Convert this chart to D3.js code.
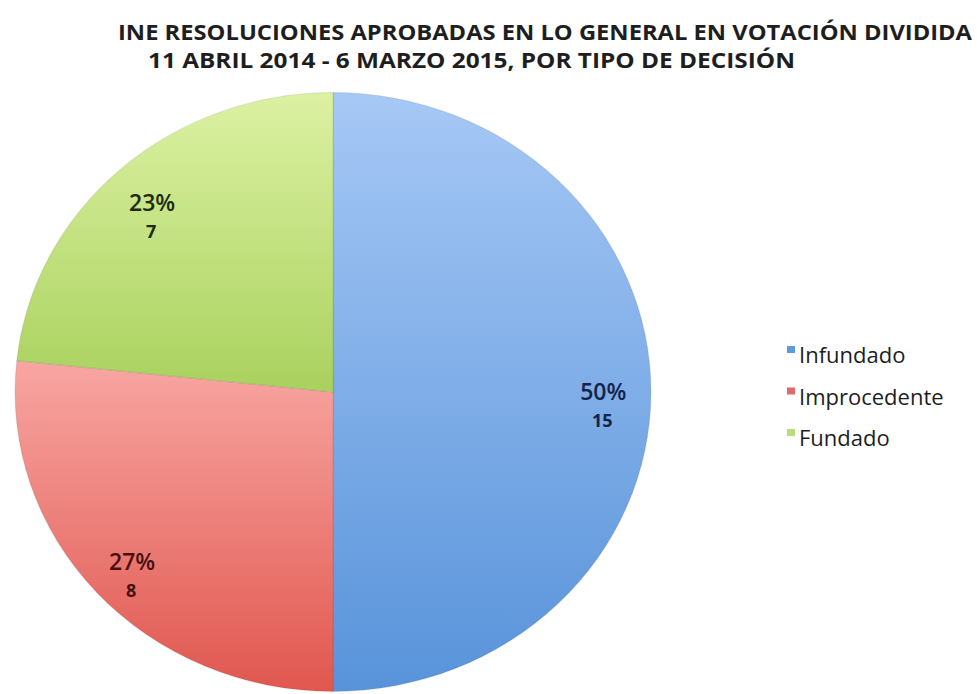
<!DOCTYPE html>
<html>
<head>
<meta charset="utf-8">
<script src="https://cdn.jsdelivr.net/npm/d3@7"></script>
<style>
  html, body { margin: 0; padding: 0; background: #fff; }
  svg { display: block; }
</style>
</head>
<body>
<svg id="chart" width="977" height="694"></svg>
<script>
// Resolutions approved in split votes, by type of decision
const categories = ["Infundado", "Improcedente", "Fundado"];
const values = [15, 8, 7];
const titleLines = [
  "INE RESOLUCIONES APROBADAS EN LO GENERAL EN VOTACIÓN DIVIDIDA",
  "11 ABRIL 2014 - 6 MARZO 2015, POR TIPO DE DECISIÓN"
];
const gradientTops = ["#a6c8f5", "#f8a6a2", "#dcf1a3"];
const gradientBottoms = ["#5893da", "#e0574f", "#a9d15e"];
const labelColors = ["#14244a", "#4a1010", "#1d2b10"];
const legendColors = ["#5d9ade", "#e0696a", "#bcdb7c"];

const svg = d3.select("#chart");

// Title
const title = svg.append("g").attr("font-family", "'Open Sans', 'DejaVu Sans', sans-serif")
  .attr("font-weight", 700).attr("fill", "#1e1e1e").attr("font-size", 22);
title.append("text").attr("x", 118).attr("y", 40)
  .attr("textLength", 854).attr("lengthAdjust", "spacingAndGlyphs").text(titleLines[0]);
title.append("text").attr("x", 148).attr("y", 68)
  .attr("textLength", 647).attr("lengthAdjust", "spacingAndGlyphs").text(titleLines[1]);

// Pie geometry: drawn as a circle, then stretched slightly wider than tall
const cx = 333, cy = 392, rx = 318, ry = 299.5;
const r = ry;
const sx = rx / ry;

const defs = svg.append("defs");
categories.forEach((c, i) => {
  const g = defs.append("linearGradient").attr("id", "grad" + i)
    .attr("x1", 0).attr("y1", 0).attr("x2", 0).attr("y2", 1);
  g.append("stop").attr("offset", "0%").attr("stop-color", gradientTops[i]);
  g.append("stop").attr("offset", "100%").attr("stop-color", gradientBottoms[i]);
});

const total = d3.sum(values);
const pie = d3.pie().sort(null).value(d => d);
const arcs = pie(values);
const arc = d3.arc().innerRadius(0).outerRadius(r);
const labelArc = d3.arc().innerRadius(r * 0.85).outerRadius(r * 0.85);

const pieG = svg.append("g").attr("transform", `translate(${cx},${cy}) scale(${sx},1)`);
pieG.selectAll("path.slice").data(arcs).join("path")
  .attr("class", "slice")
  .attr("d", arc)
  .attr("fill", (d, i) => `url(#grad${i})`)
  .attr("stroke", "rgba(60,60,60,0.10)")
  .attr("stroke-width", 1.2);

// Percentage and count labels
const labels = svg.append("g").attr("font-family", "'Open Sans', 'DejaVu Sans', sans-serif")
  .attr("font-weight", 600).attr("text-anchor", "middle");
arcs.forEach((d, i) => {
  const [lx, ly] = labelArc.centroid(d);
  const x = cx + lx * sx, y = cy + ly;
  const pct = Math.round(d.value / total * 100) + "%";
  labels.append("text").attr("x", x).attr("y", y + 8).attr("font-size", 23)
    .attr("fill", labelColors[i]).text(pct);
  labels.append("text").attr("x", x - 1).attr("y", y + 35).attr("font-size", 18)
    .attr("font-weight", 700).attr("fill", labelColors[i]).text(values[i]);
});

// Legend
const legend = svg.append("g").attr("font-family", "'Open Sans', 'DejaVu Sans', sans-serif")
  .attr("font-size", 22).attr("fill", "#1e1e1e");
categories.forEach((c, i) => {
  const y = 355 + i * 41.5;
  legend.append("rect").attr("x", 787).attr("y", y - 9).attr("width", 8).attr("height", 7)
    .attr("fill", legendColors[i]);
  legend.append("text").attr("x", 799).attr("y", y + 8).text(c);
});
</script>
</body>
</html>
